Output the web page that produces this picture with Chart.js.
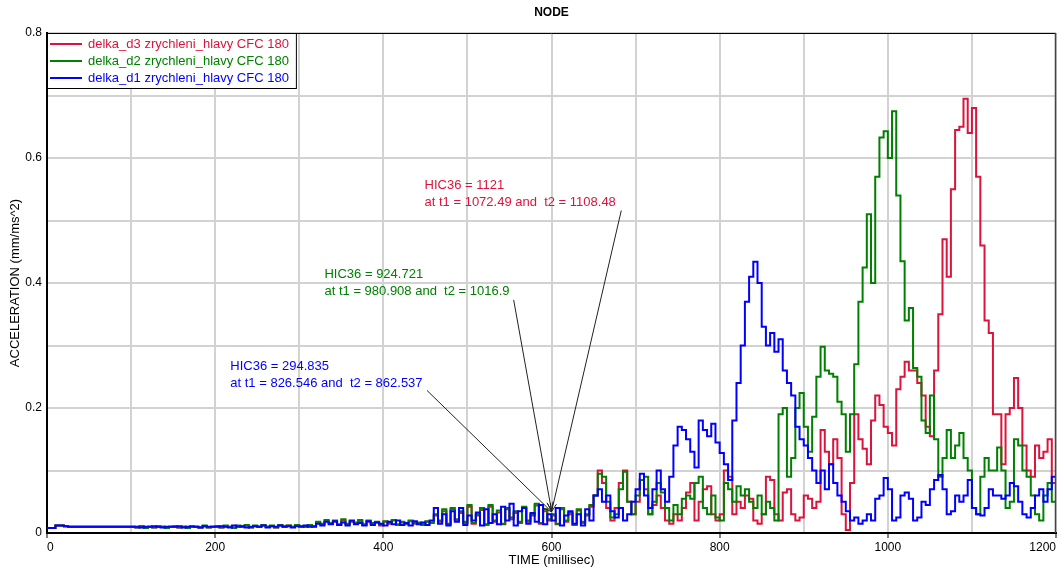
<!DOCTYPE html>
<html>
<head>
<meta charset="utf-8">
<title>NODE</title>
<script src="https://cdn.jsdelivr.net/npm/chart.js@4/dist/chart.umd.min.js"></script>
<style>
  html, body { margin: 0; padding: 0; background: #ffffff; }
  #chart { display: block; }
</style>
</head>
<body>
<canvas id="chart" width="1062" height="570"></canvas>
<script>
// Head acceleration traces, sampled every 5 ms from 0 to 1200 ms.
const SAMPLE_STEP_MS = 5;

// delka_d3 zrychleni_hlavy CFC 180
const DELKA_D3 = [
  0.008,0.008,0.012,0.012,0.011,0.010,0.010,0.010,0.010,0.010,
  0.010,0.010,0.010,0.010,0.010,0.010,0.010,0.010,0.010,0.010,
  0.010,0.009,0.011,0.009,0.010,0.009,0.010,0.010,0.009,0.010,
  0.010,0.009,0.010,0.009,0.011,0.010,0.009,0.011,0.009,0.010,
  0.011,0.009,0.011,0.010,0.009,0.011,0.010,0.012,0.009,0.011,
  0.010,0.012,0.010,0.011,0.009,0.012,0.010,0.012,0.010,0.012,
  0.011,0.010,0.012,0.010,0.016,0.014,0.019,0.015,0.018,0.013,
  0.020,0.014,0.018,0.016,0.019,0.013,0.018,0.015,0.017,0.012,
  0.018,0.015,0.020,0.013,0.017,0.014,0.019,0.015,0.016,0.013,
  0.018,0.016,0.028,0.018,0.035,0.014,0.038,0.020,0.032,0.016,
  0.042,0.015,0.028,0.037,0.013,0.042,0.018,0.033,0.014,0.038,
  0.022,0.032,0.016,0.040,0.018,0.028,0.044,0.015,0.035,0.020,
  0.028,0.014,0.038,0.018,0.030,0.013,0.036,0.016,0.028,0.042,
  0.060,0.100,0.080,0.040,0.020,0.040,0.080,0.100,0.050,0.030,
  0.050,0.085,0.070,0.030,0.045,0.060,0.040,0.020,0.015,0.030,
  0.020,0.040,0.065,0.080,0.020,0.050,0.070,0.075,0.030,0.020,
  0.030,0.100,0.090,0.030,0.050,0.040,0.060,0.055,0.020,0.015,
  0.030,0.090,0.085,0.030,0.020,0.065,0.070,0.030,0.020,0.025,
  0.060,0.055,0.040,0.050,0.165,0.130,0.110,0.150,0.120,0.030,
  0.005,0.080,0.190,0.150,0.135,0.110,0.180,0.220,0.205,0.170,
  0.160,0.140,0.230,0.250,0.274,0.260,0.260,0.240,0.220,0.170,
  0.155,0.260,0.350,0.470,0.410,0.550,0.645,0.650,0.695,0.640,
  0.680,0.570,0.460,0.340,0.320,0.190,0.190,0.110,0.190,0.200,
  0.248,0.200,0.140,0.100,0.090,0.140,0.120,0.130,0.150,0.080,
  0.170
];

// delka_d2 zrychleni_hlavy CFC 180
const DELKA_D2 = [
  0.008,0.008,0.012,0.012,0.011,0.010,0.010,0.010,0.010,0.010,
  0.010,0.010,0.010,0.010,0.010,0.010,0.010,0.010,0.010,0.010,
  0.010,0.009,0.011,0.008,0.010,0.009,0.011,0.010,0.008,0.010,
  0.011,0.009,0.010,0.008,0.011,0.010,0.009,0.012,0.009,0.010,
  0.011,0.009,0.012,0.010,0.008,0.012,0.010,0.013,0.009,0.012,
  0.010,0.013,0.010,0.012,0.009,0.013,0.011,0.012,0.010,0.013,
  0.011,0.010,0.013,0.010,0.018,0.015,0.021,0.016,0.020,0.014,
  0.022,0.015,0.019,0.017,0.021,0.014,0.020,0.016,0.018,0.013,
  0.019,0.016,0.021,0.014,0.018,0.015,0.020,0.016,0.017,0.014,
  0.019,0.017,0.030,0.020,0.038,0.015,0.040,0.022,0.035,0.018,
  0.045,0.016,0.030,0.040,0.014,0.045,0.020,0.036,0.015,0.040,
  0.025,0.035,0.018,0.042,0.020,0.030,0.047,0.016,0.038,0.022,
  0.030,0.015,0.040,0.020,0.033,0.014,0.038,0.018,0.030,0.045,
  0.060,0.095,0.090,0.050,0.025,0.030,0.070,0.098,0.050,0.030,
  0.060,0.085,0.090,0.030,0.050,0.080,0.065,0.040,0.020,0.045,
  0.030,0.055,0.060,0.055,0.080,0.090,0.040,0.030,0.060,0.025,
  0.020,0.080,0.070,0.050,0.075,0.060,0.070,0.050,0.040,0.060,
  0.030,0.050,0.040,0.020,0.190,0.200,0.090,0.120,0.200,0.224,
  0.170,0.130,0.186,0.250,0.298,0.260,0.255,0.250,0.210,0.190,
  0.130,0.190,0.270,0.370,0.425,0.510,0.400,0.570,0.633,0.643,
  0.600,0.675,0.540,0.435,0.340,0.360,0.264,0.250,0.180,0.160,
  0.220,0.150,0.090,0.120,0.165,0.120,0.140,0.160,0.120,0.100,
  0.040,0.030,0.090,0.120,0.100,0.100,0.137,0.100,0.040,0.050,
  0.150,0.140,0.100,0.090,0.060,0.030,0.020,0.060,0.080,0.050,
  0.070
];

// delka_d1 zrychleni_hlavy CFC 180
const DELKA_D1 = [
  0.008,0.008,0.012,0.012,0.011,0.010,0.010,0.010,0.010,0.010,
  0.010,0.010,0.010,0.010,0.010,0.010,0.010,0.010,0.010,0.010,
  0.010,0.010,0.009,0.010,0.010,0.011,0.010,0.009,0.010,0.010,
  0.010,0.011,0.009,0.010,0.010,0.010,0.009,0.011,0.010,0.010,
  0.010,0.011,0.010,0.009,0.012,0.010,0.011,0.009,0.010,0.011,
  0.010,0.012,0.009,0.011,0.010,0.012,0.010,0.011,0.009,0.011,
  0.010,0.012,0.010,0.011,0.015,0.012,0.018,0.014,0.019,0.013,
  0.017,0.012,0.020,0.014,0.016,0.012,0.019,0.013,0.017,0.015,
  0.012,0.018,0.014,0.020,0.013,0.016,0.012,0.019,0.014,0.017,
  0.013,0.020,0.040,0.015,0.030,0.012,0.035,0.018,0.040,0.013,
  0.028,0.020,0.033,0.012,0.038,0.016,0.030,0.014,0.042,0.020,
  0.047,0.012,0.035,0.040,0.015,0.032,0.018,0.045,0.014,0.030,
  0.020,0.040,0.012,0.028,0.035,0.015,0.030,0.012,0.038,0.020,
  0.060,0.070,0.050,0.060,0.035,0.025,0.040,0.020,0.030,0.050,
  0.070,0.095,0.060,0.040,0.070,0.100,0.070,0.050,0.090,0.140,
  0.170,0.165,0.150,0.130,0.105,0.180,0.165,0.155,0.175,0.145,
  0.128,0.110,0.085,0.180,0.240,0.300,0.370,0.410,0.434,0.400,
  0.330,0.300,0.320,0.290,0.310,0.260,0.240,0.220,0.170,0.150,
  0.140,0.120,0.100,0.080,0.100,0.070,0.110,0.080,0.060,0.050,
  0.035,0.020,0.025,0.015,0.020,0.030,0.020,0.055,0.060,0.088,
  0.070,0.020,0.025,0.060,0.065,0.055,0.020,0.025,0.050,0.045,
  0.070,0.085,0.093,0.070,0.030,0.035,0.060,0.050,0.060,0.085,
  0.040,0.030,0.028,0.040,0.070,0.060,0.060,0.055,0.060,0.080,
  0.075,0.050,0.030,0.025,0.040,0.060,0.070,0.050,0.070,0.090,
  0.100
];

const TIME_MS = DELKA_D1.map((_, i) => i * SAMPLE_STEP_MS);

const SERIES_LABELS = [
  'delka_d3 zrychleni_hlavy CFC 180',
  'delka_d2 zrychleni_hlavy CFC 180',
  'delka_d1 zrychleni_hlavy CFC 180'
];
const SERIES_COLORS = ['#dc143c', '#008000', '#0000ff'];

// HIC36 results and where each note sits (data units: ms, mm/ms^2)
const HIC_NOTES = [
  { color: SERIES_COLORS[0], lines: ['HIC36 = 1121', 'at t1 = 1072.49 and  t2 = 1108.48'],
    text: { x: 449, y: 0.556 }, from: { x: 683, y: 0.516 }, to: { x: 600, y: 0.034 } },
  { color: SERIES_COLORS[1], lines: ['HIC36 = 924.721', 'at t1 = 980.908 and  t2 = 1016.9'],
    text: { x: 330, y: 0.413 }, from: { x: 555, y: 0.373 }, to: { x: 600, y: 0.036 } },
  { color: SERIES_COLORS[2], lines: ['HIC36 = 294.835', 'at t1 = 826.546 and  t2 = 862.537'],
    text: { x: 218, y: 0.266 }, from: { x: 452, y: 0.228 }, to: { x: 600, y: 0.034 } }
];

const FONT = '"Liberation Sans", Arial, sans-serif';

function toPoints(values) {
  return values.map((v, i) => ({ x: TIME_MS[i], y: v }));
}

// Frame around the plot: dark top and right edges
const plotFrame = {
  id: 'plotFrame',
  afterDatasetsDraw(chart) {
    const { ctx, chartArea: a } = chart;
    ctx.save();
    ctx.lineWidth = 1;
    ctx.strokeStyle = '#000';
    ctx.beginPath();
    ctx.moveTo(a.left, a.top + 0.5);
    ctx.lineTo(a.right, a.top + 0.5);
    ctx.stroke();
    ctx.strokeStyle = '#444';
    ctx.lineWidth = 1.5;
    ctx.beginPath();
    ctx.moveTo(a.right - 0.5, a.top);
    ctx.lineTo(a.right - 0.5, a.bottom);
    ctx.stroke();
    ctx.restore();
  }
};

// Boxed legend in the top-left corner of the plot
const boxedLegend = {
  id: 'boxedLegend',
  afterDraw(chart) {
    const { ctx, chartArea: a } = chart;
    const sets = chart.data.datasets;
    ctx.save();
    ctx.font = '13px ' + FONT;
    const textW = Math.max(...sets.map(d => ctx.measureText(d.label).width));
    const rowH = 17;
    const x0 = a.left, y0 = a.top;
    const w = 41 + textW + 7;
    const h = rowH * sets.length + 4;
    ctx.fillStyle = '#fff';
    ctx.fillRect(x0, y0, w, h);
    ctx.strokeStyle = '#000';
    ctx.lineWidth = 1;
    ctx.strokeRect(x0 + 0.5, y0 + 0.5, w, h);
    ctx.textBaseline = 'middle';
    ctx.textAlign = 'left';
    sets.forEach((d, i) => {
      const cy = y0 + 11 + i * rowH;
      ctx.strokeStyle = d.borderColor;
      ctx.lineWidth = 2;
      ctx.beginPath();
      ctx.moveTo(x0 + 3, cy);
      ctx.lineTo(x0 + 35, cy);
      ctx.stroke();
      ctx.fillStyle = d.borderColor;
      ctx.fillText(d.label, x0 + 41, cy);
    });
    ctx.restore();
  }
};

// HIC36 notes with leader arrows
const hicNotes = {
  id: 'hicNotes',
  afterDraw(chart) {
    const { ctx, scales: { x, y } } = chart;
    ctx.save();
    ctx.font = '13px ' + FONT;
    ctx.textBaseline = 'middle';
    ctx.textAlign = 'left';
    HIC_NOTES.forEach(n => {
      const tx = x.getPixelForValue(n.text.x);
      const ty = y.getPixelForValue(n.text.y);
      ctx.fillStyle = n.color;
      n.lines.forEach((s, i) => ctx.fillText(s, tx, ty + i * 17));
      const x1 = x.getPixelForValue(n.from.x), y1 = y.getPixelForValue(n.from.y);
      const x2 = x.getPixelForValue(n.to.x), y2 = y.getPixelForValue(n.to.y);
      ctx.strokeStyle = '#222';
      ctx.lineWidth = 1;
      ctx.beginPath();
      ctx.moveTo(x1, y1);
      ctx.lineTo(x2, y2);
      const ang = Math.atan2(y2 - y1, x2 - x1);
      const len = 9, spread = 0.35;
      ctx.moveTo(x2, y2);
      ctx.lineTo(x2 - len * Math.cos(ang - spread), y2 - len * Math.sin(ang - spread));
      ctx.moveTo(x2, y2);
      ctx.lineTo(x2 - len * Math.cos(ang + spread), y2 - len * Math.sin(ang + spread));
      ctx.stroke();
    });
    ctx.restore();
  }
};

const seriesValues = [DELKA_D3, DELKA_D2, DELKA_D1];

new Chart(document.getElementById('chart'), {
  type: 'line',
  data: {
    datasets: seriesValues.map((vals, i) => ({
      label: SERIES_LABELS[i],
      data: toPoints(vals),
      borderColor: SERIES_COLORS[i],
      backgroundColor: SERIES_COLORS[i],
      borderWidth: 2,
      pointRadius: 0,
      tension: 0,
      stepped: true,
      fill: false,
      order: 2 - i
    }))
  },
  options: {
    responsive: false,
    animation: false,
    events: [],
    layout: { padding: { right: 6 } },
    plugins: {
      legend: { display: false },
      tooltip: { enabled: false },
      title: {
        display: true,
        text: 'NODE',
        fullSize: false,
        color: '#000',
        font: { family: FONT, size: 12, weight: 'bold' },
        padding: { top: 5, bottom: 13.6 }
      }
    },
    scales: {
      x: {
        type: 'linear',
        min: 0,
        max: 1200,
        afterFit(scale) { scale.height = 37; },
        ticks: {
          stepSize: 100,
          autoSkip: false,
          maxRotation: 0,
          align: 'inner',
          padding: 2,
          color: '#000',
          font: { family: FONT, size: 12 },
          callback: v => (v % 200 === 0 ? String(v) : '')
        },
        grid: {
          color: '#d2d2d2',
          lineWidth: 2,
          tickLength: 5,
          tickWidth: 1,
          tickColor: ctx => (ctx.tick && ctx.tick.value % 200 === 0 ? '#000' : 'rgba(0,0,0,0)')
        },
        border: { color: '#000', width: 2 },
        title: {
          display: true,
          text: 'TIME (millisec)',
          color: '#000',
          font: { family: FONT, size: 13 },
          padding: { top: 0, bottom: 2 }
        }
      },
      y: {
        min: 0,
        max: 0.8,
        afterFit(scale) { scale.width = 47; },
        ticks: {
          stepSize: 0.1,
          padding: 5,
          color: '#000',
          font: { family: FONT, size: 12 },
          callback: v => {
            const k = Math.round(v * 10);
            if (k % 2 !== 0) return '';
            return k === 0 ? '0' : (k / 10).toFixed(1);
          }
        },
        grid: { color: '#d2d2d2', lineWidth: 2, drawTicks: false },
        border: { color: '#000', width: 2 },
        title: {
          display: true,
          text: 'ACCELERATION (mm/ms^2)',
          color: '#000',
          font: { family: FONT, size: 13 },
          padding: { top: 8, bottom: 0 }
        }
      }
    }
  },
  plugins: [plotFrame, boxedLegend, hicNotes]
});
</script>
</body>
</html>
